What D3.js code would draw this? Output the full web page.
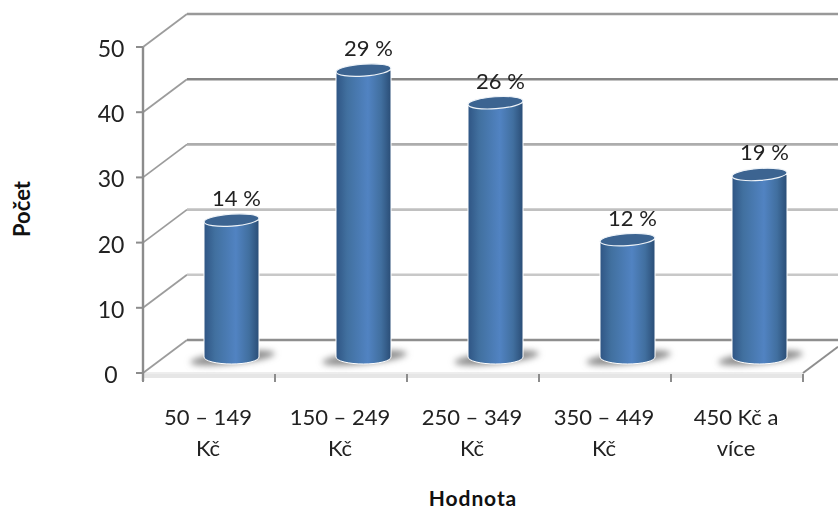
<!DOCTYPE html>
<html><head><meta charset="utf-8">
<script src="https://cdnjs.cloudflare.com/ajax/libs/d3/7.8.5/d3.min.js"></script>
<style>html,body{margin:0;padding:0;background:#fff}svg{display:block}text{font-family:Lato,"Open Sans",sans-serif}</style>
</head><body><svg id="c" width="838" height="512"></svg>
<script>
const categories=[["50 – 149","Kč"],["150 – 249","Kč"],["250 – 349","Kč"],["350 – 449","Kč"],["450 Kč a","více"]];
const values=[21,44,39,18,28];
const percentLabels=["14 %","29 %","26 %","12 %","19 %"];
const yTicks=[0,10,20,30,40,50];
const gridColors=["#8e8e8e","#c8c8c8","#c0c0c0","#adadad","#858585","#999999"];
const yTitle="Počet", xTitle="Hodnota";

const svg=d3.select("#c");
const depthX=44, depthY=-33;
const x=d3.scaleBand().domain(d3.range(categories.length)).range([143,803]);
const y=d3.scaleLinear().domain([0,50]).range([373,47]);
const defs=svg.append("defs");
const g=defs.append("linearGradient").attr("id","cyl");
[[0,"#2f5584"],[.2,"#41709f"],[.58,"#5183c2"],[.82,"#416f9f"],[1,"#2a4d76"]].forEach(s=>g.append("stop").attr("offset",s[0]).attr("stop-color",s[1]));
defs.append("filter").attr("id","blur").attr("x","-30%").attr("y","-150%").attr("width","160%").attr("height","400%")
  .append("feGaussianBlur").attr("stdDeviation",3.4);
defs.append("filter").attr("id","soft").append("feGaussianBlur").attr("stdDeviation",.35);
defs.append("filter").attr("id","softText").attr("x","-10%").attr("y","-20%").attr("width","120%").attr("height","140%")
  .append("feGaussianBlur").attr("stdDeviation",.3);

// floor lip
svg.append("rect").attr("x",x.range()[0]).attr("y",y(0)+1).attr("width",x.range()[1]-x.range()[0]).attr("height",4).attr("fill","#e6e6e6");
svg.append("line").attr("x1",143).attr("x2",803).attr("y1",y(0)).attr("y2",y(0)).attr("stroke","#dcdcdc").attr("stroke-width",1);

// grid: side wall and back wall
const grid=svg.append("g").attr("filter","url(#soft)");
yTicks.forEach((t,i)=>{
  grid.append("line").attr("stroke","#9c9c9c").attr("stroke-width",1.8)
    .attr("x1",x.range()[0]).attr("y1",y(t)).attr("x2",x.range()[0]+depthX).attr("y2",y(t)+depthY);
  grid.append("line").attr("stroke",gridColors[i]).attr("stroke-width",2.6)
    .attr("x1",x.range()[0]+depthX).attr("y1",y(t)+depthY).attr("x2",838).attr("y2",y(t)+depthY);
});
grid.append("line").attr("x1",803).attr("x2",838).attr("y1",y(0)).attr("y2",y(0)+depthY*35/44).attr("stroke","#8e8e8e").attr("stroke-width",2);

// axes
const ax=svg.append("g").attr("filter","url(#soft)");
ax.append("line").attr("x1",143).attr("x2",143).attr("y1",y(50)).attr("y2",y(0)+8).attr("stroke","#8c8c8c").attr("stroke-width",2.4);
yTicks.forEach(t=>ax.append("line").attr("x1",136).attr("x2",143).attr("y1",y(t)).attr("y2",y(t)).attr("stroke","#8c8c8c").attr("stroke-width",2));
d3.range(categories.length+1).forEach(i=>{
  const px=i<categories.length?x(i):x.range()[1];
  ax.append("line").attr("x1",px).attr("x2",px).attr("y1",y(0)+1).attr("y2",y(0)+9).attr("stroke","#8c8c8c").attr("stroke-width",2);
});

// cylinders
const rx=27.5, ry=7;
const cx=i=>x(i)+x.bandwidth()/2+22.5;
const base=v=>y(v)-16;
const bars=svg.append("g").selectAll("g").data(values).join("g");
bars.append("ellipse").attr("cx",(d,i)=>cx(i)+1).attr("cy",base(0)+1).attr("rx",rx+15).attr("ry",6)
  .attr("fill","#8a8a8a").attr("filter","url(#blur)")
  .attr("transform",(d,i)=>`rotate(-6 ${cx(i)} ${base(0)})`);
bars.append("path").attr("fill","url(#cyl)").attr("stroke","#fff").attr("stroke-width",1)
  .attr("d",(d,i)=>`M${cx(i)-rx},${base(d)}V${base(0)}A${rx},${ry} 0 0 0 ${cx(i)+rx},${base(0)}V${base(d)}Z`);
bars.append("ellipse").attr("cx",(d,i)=>cx(i)).attr("cy",d=>base(d)).attr("rx",rx).attr("ry",ry-1)
  .attr("fill","#3c6491").attr("stroke","#eef3f8").attr("stroke-width",1.2)
  .attr("transform",(d,i)=>`rotate(-4 ${cx(i)} ${base(d)})`);
bars.append("text").attr("x",(d,i)=>cx(i)+5).attr("y",d=>base(d)-14).attr("text-anchor","middle")
  .attr("font-size",22).attr("fill","#222").attr("filter","url(#softText)").text((d,i)=>percentLabels[i]);

// tick labels
svg.append("g").selectAll("text").data(yTicks).join("text")
  .attr("x",111).attr("y",d=>y(d)+10).attr("text-anchor","middle").attr("font-size",23).attr("fill","#222")
  .attr("filter","url(#softText)").text(d=>d);
const lab=svg.append("g").selectAll("text").data(categories).join("text")
  .attr("text-anchor","middle").attr("font-size",22).attr("fill","#222").attr("filter","url(#softText)");
lab.selectAll("tspan").data((d,i)=>d.map(s=>({s,i}))).join("tspan")
  .attr("x",d=>x(d.i)+x.bandwidth()/2-1).attr("y",(d,j)=>425+j*31).text(d=>d.s);

svg.append("text").attr("transform","translate(30,209) rotate(-90)").attr("text-anchor","middle")
  .attr("font-size",22).attr("font-weight",700).attr("fill","#111").text(yTitle);
svg.append("text").attr("x",473).attr("y",506).attr("text-anchor","middle")
  .attr("font-size",21).attr("letter-spacing",.9).attr("font-weight",700).attr("fill","#111").text(xTitle);
</script></body></html>
